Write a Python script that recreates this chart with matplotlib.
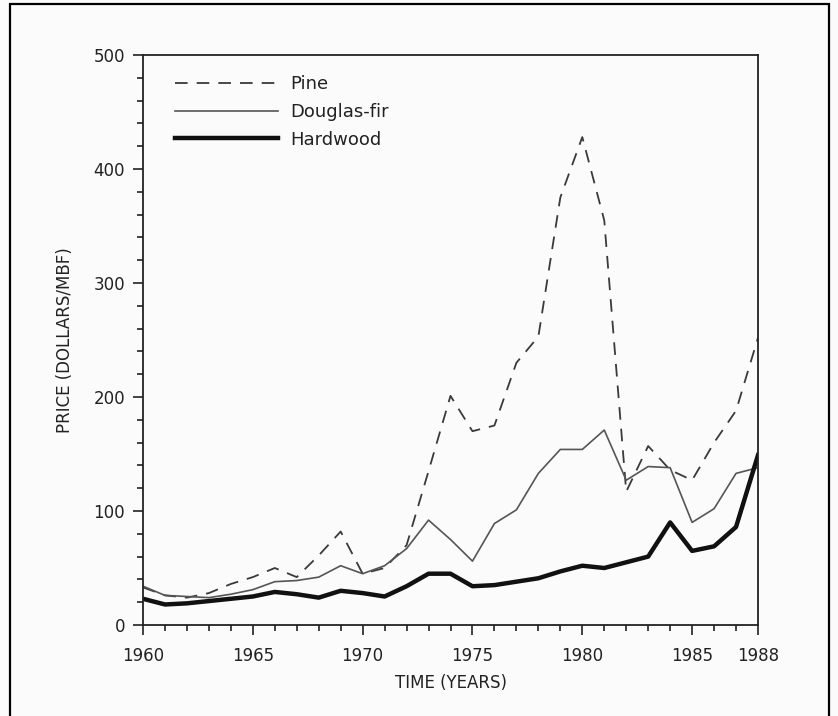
import numpy as np
import matplotlib.pyplot as plt
from matplotlib.patches import Rectangle
from matplotlib.ticker import MultipleLocator, FixedLocator

# values (dollars per MBF)
years = list(range(1960, 1989))
pine = [33, 26, 24, 28, 36, 42, 50, 42, 61, 82, 45, 50, 70, 135, 201,
        170, 175, 230, 253, 375, 428, 355, 117, 157, 136, 127, 160, 188, 252]
douglas_fir = [34, 26, 25, 24, 27, 31, 38, 39, 42, 52, 45, 52, 67, 92, 75,
               56, 89, 101, 133, 154, 154, 171, 127, 139, 138, 90, 102, 133, 138]
hardwood = [23, 18, 19, 21, 23, 25, 29, 27, 24, 30, 28, 25, 34, 45, 45,
            34, 35, 38, 41, 47, 52, 50, 55, 60, 90, 65, 69, 86, 149]

x_major = [1960, 1965, 1970, 1975, 1980, 1985, 1988]

ink = '#222222'

fig = plt.figure(figsize=(8.38, 7.16), dpi=100)
fig.patch.set_facecolor('#fbfbfb')
ax = fig.add_axes([143 / 838, 1 - 625 / 716, 615 / 838, 570 / 716])
ax.set_facecolor('#fbfbfb')

ax.plot(years, pine, color='#3a3a3a', lw=1.3, dashes=(7, 5), label='Pine')
ax.plot(years, douglas_fir, color='#555555', lw=1.2, label='Douglas-fir')
ax.plot(years, hardwood, color='#111111', lw=3.2, label='Hardwood')

ax.set_xlim(1960, 1988)
ax.set_ylim(0, 500)

ax.xaxis.set_major_locator(FixedLocator(x_major))
ax.xaxis.set_minor_locator(MultipleLocator(1))
ax.yaxis.set_major_locator(MultipleLocator(100))
ax.yaxis.set_minor_locator(MultipleLocator(20))
ax.tick_params(which='both', direction='out', colors=ink, width=1.2, labelsize=12)
ax.tick_params(which='major', length=7)
ax.tick_params(which='minor', length=4)
ax.tick_params(axis='x', pad=9)
ax.tick_params(axis='y', pad=6)
for s in ax.spines.values():
    s.set_color(ink)
    s.set_linewidth(1.3)

ax.set_xlabel('TIME (YEARS)', fontsize=12, color=ink, labelpad=6)
ax.set_ylabel('PRICE (DOLLARS/MBF)', fontsize=12, color=ink, labelpad=14)

ax.legend(loc='upper left', bbox_to_anchor=(0.052, 0.965), frameon=False,
          fontsize=13, handlelength=5.7, handletextpad=0.7, labelspacing=0.55,
          borderpad=0, borderaxespad=0, labelcolor=ink)

# scanned page frame
fig.patches.append(Rectangle((10 / 838, -0.1), 819 / 838, 0.1 + 712 / 716,
                             transform=fig.transFigure, fill=False,
                             lw=1.6, ec='black'))

fig.savefig('out.png', dpi=100, facecolor=fig.get_facecolor())
